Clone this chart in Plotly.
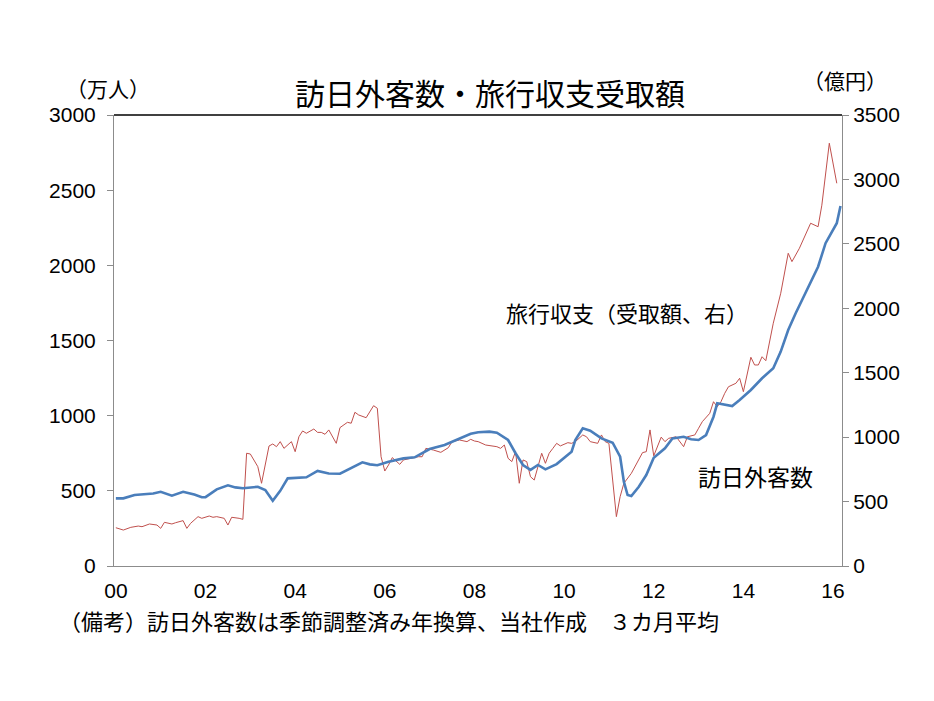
import plotly.graph_objects as go

# ---- data (months since Jan 2000) ----
red_months = [0, 2, 4, 6, 7, 9, 11, 12, 13, 15, 16, 18, 19, 20, 22, 23, 25, 26, 27, 29,
              30, 31, 33, 34, 35, 36, 38, 39, 41, 42, 43, 44, 45, 46, 47, 48, 49, 50, 51, 53,
              54, 55, 56, 57, 59, 60, 62, 63, 64, 65, 67, 69, 70, 71, 72, 73, 74, 76, 77, 79,
              81, 82, 83, 85, 87, 89, 90, 92, 94, 95, 96, 97, 99, 102, 103, 104, 105, 106, 107, 108,
              109, 110, 111, 112, 113, 114, 115, 116, 117, 118, 119, 121, 122, 123, 125, 126, 127, 129, 130, 131,
              132, 134, 135, 136, 138, 140, 141, 142, 143, 144, 145, 146, 147, 148, 150, 151, 152, 153, 155, 156,
              157, 159, 160, 161, 162, 163, 164, 166, 167, 168, 169, 170, 171, 172, 173, 174, 176, 177, 178, 180,
              181, 183, 186, 188, 189, 191, 193]
red_values = [297, 279, 300, 310, 305, 326, 318, 292, 339, 326, 336, 352, 292, 331, 383, 370, 388, 378, 383, 370,
              318, 378, 370, 362, 875, 869, 771, 642, 931, 947, 926, 965, 913, 940, 965, 887, 1003, 1048, 1030, 1063,
              1037, 1037, 1022, 1056, 952, 1074, 1115, 1108, 1193, 1172, 1151, 1244, 1224, 848, 737, 784, 841, 789, 823, 836,
              848, 848, 913, 900, 882, 918, 965, 978, 965, 983, 970, 965, 939, 926, 913, 939, 836, 810, 887, 642,
              823, 810, 693, 667, 771, 875, 797, 875, 913, 952, 932, 957, 952, 965, 1017, 1003, 965, 952, 1017, 965,
              952, 383, 538, 642, 719, 823, 880, 887, 1056, 855, 926, 1000, 965, 991, 1003, 965, 926, 1003, 1017, 1069,
              1120, 1185, 1275, 1236, 1275, 1340, 1391, 1418, 1457, 1353, 1480, 1620, 1560, 1560, 1624, 1593, 1884, 2012, 2117, 2427,
              2362, 2466, 2660, 2633, 2800, 3281, 2970]

blue_months = [0, 2, 5, 7, 10, 12, 15, 18, 21, 23, 24, 27, 30, 32, 34, 38, 40, 42, 44, 46,
               49, 51, 54, 57, 60, 62, 66, 68, 70, 73, 77, 80, 84, 88, 91, 95, 97, 100, 102, 105,
               107, 109, 111, 113, 115, 118, 122, 123, 125, 127, 130, 132, 133, 135, 136, 137, 138, 140, 142, 144,
               147, 149, 152, 154, 156, 158, 160, 161, 163, 165, 167, 170, 173, 174, 176, 178, 180, 182, 185, 188,
               190, 193, 194]
blue_values = [450, 450, 472, 478, 482, 494, 468, 494, 475, 457, 458, 510, 537, 523, 517, 527, 505, 434, 500, 583,
               588, 590, 632, 615, 614, 639, 690, 676, 670, 694, 716, 723, 778, 805, 838, 880, 890, 894, 887, 838,
               750, 672, 639, 672, 643, 678, 760, 838, 916, 900, 849, 827, 820, 727, 561, 472, 465, 527, 605, 720,
               783, 849, 860, 843, 838, 871, 993, 1082, 1071, 1064, 1104, 1171, 1249, 1271, 1315, 1426, 1570, 1681, 1836, 1991,
               2147, 2280, 2395]

x_tick_months = [0, 24, 48, 72, 96, 120, 144, 168, 192]
x_tick_labels = ["00", "02", "04", "06", "08", "10", "12", "14", "16"]
left_ticks = [0, 500, 1000, 1500, 2000, 2500, 3000]
right_ticks = [0, 500, 1000, 1500, 2000, 2500, 3000, 3500]

NUM_FONT = "Liberation Sans Narrow, Arial Narrow, Liberation Sans, Arial, sans-serif"
JP_FONT = "Noto Sans CJK JP, Noto Sans CJK SC, sans-serif"
AXIS_GRAY = "#8c8c8c"

fig = go.Figure()
fig.add_trace(go.Scatter(x=red_months, y=red_values, mode="lines", yaxis="y",
                         line=dict(color="#c0504d", width=1), name="旅行収支（受取額、右）"))
fig.add_trace(go.Scatter(x=blue_months, y=blue_values, mode="lines", yaxis="y2",
                         line=dict(color="#4a7ebb", width=2.6), name="訪日外客数"))

fig.update_layout(
    width=934, height=701,
    margin=dict(l=114, r=92, t=115, b=135),
    paper_bgcolor="white", plot_bgcolor="white",
    showlegend=False,
    font=dict(family=JP_FONT, color="black"),
    xaxis=dict(range=[-0.5, 194.4], tickvals=x_tick_months, ticktext=x_tick_labels,
               showgrid=False, zeroline=False, showline=True, linecolor=AXIS_GRAY, linewidth=1,
               ticks="", ticklabelstandoff=6,
               tickfont=dict(family=NUM_FONT, size=21, color="black")),
    yaxis=dict(range=[0, 3500], tickvals=right_ticks, side="right",
               showgrid=False, zeroline=False, showline=True, linecolor=AXIS_GRAY, linewidth=1,
               ticks="outside", ticklen=6, tickcolor=AXIS_GRAY, ticklabelstandoff=0,
               tickfont=dict(family=NUM_FONT, size=21, color="black")),
    yaxis2=dict(range=[0, 3000], tickvals=left_ticks, side="left", overlaying="y",
                showgrid=False, zeroline=False, showline=True, linecolor=AXIS_GRAY, linewidth=1,
                ticks="outside", ticklen=6, tickcolor=AXIS_GRAY, ticklabelstandoff=7,
                tickfont=dict(family=NUM_FONT, size=21, color="black")),
)

# top border of plot area
fig.add_shape(type="line", xref="paper", yref="paper", x0=0, x1=1, y0=1, y1=1,
              line=dict(color="black", width=1.5))

def ann(text, x, y, size, xanchor="center"):
    fig.add_annotation(text=text, xref="paper", yref="paper", x=x, y=y,
                       xanchor=xanchor, yanchor="middle", showarrow=False,
                       font=dict(family=JP_FONT, size=size, color="black"))

W, H = 728.0, 451.0
def px(xp): return (xp - 114) / W
def py(yp): return (566 - yp) / H

ann("訪日外客数・旅行収支受取額", px(490), py(92), 30)
ann("（万人）", px(108), py(88), 21)
ann("（億円）", px(845), py(80), 21)
ann("旅行収支（受取額、右）", px(627), py(312), 22)
ann("訪日外客数", px(755), py(476), 23)
ann("（備考）訪日外客数は季節調整済み年換算、当社作成　３カ月平均", px(57), py(620), 22, xanchor="left")

fig.write_html("out.html")
